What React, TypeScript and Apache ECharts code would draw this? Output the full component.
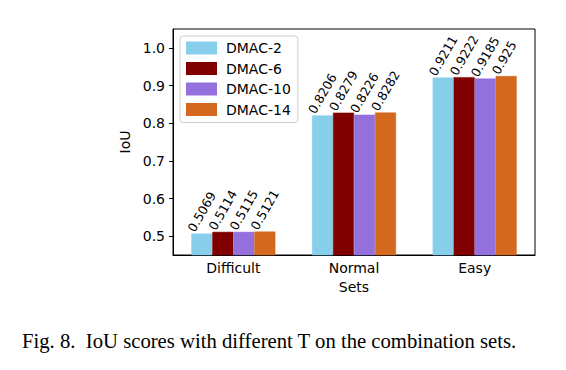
import React, { useEffect, useRef } from "react";
import * as echarts from "echarts";

const categories = ["Difficult", "Normal", "Easy"];
const seriesNames = ["DMAC-2", "DMAC-6", "DMAC-10", "DMAC-14"];
const dmac2 = [0.5069, 0.8206, 0.9211];
const dmac6 = [0.5114, 0.8279, 0.9222];
const dmac10 = [0.5115, 0.8226, 0.9185];
const dmac14 = [0.5121, 0.8282, 0.925];
const yTicks = [0.5, 0.6, 0.7, 0.8, 0.9, 1.0];
const colors = ["#87CEEB", "#800000", "#9370DB", "#D2691E"];
const caption = "Fig. 8.  IoU scores with different T on the combination sets.";

export default function App() {
  const ref = useRef<HTMLDivElement>(null);
  useEffect(() => {
    if (!ref.current) return;
    const chart = echarts.init(ref.current, null, { renderer: "svg" });
    const font = "DejaVu Sans";
    const values = [dmac2, dmac6, dmac10, dmac14];
    chart.setOption({
      animation: false,
      textStyle: { fontFamily: font },
      grid: {
        left: 173,
        top: 29,
        right: 31,
        bottom: 115,
        show: true,
        borderColor: "#000",
        borderWidth: 1,
        backgroundColor: "transparent",
      },
      legend: {
        orient: "vertical",
        left: 180,
        top: 36,
        data: seriesNames,
        icon: "rect",
        itemWidth: 29,
        itemHeight: 11,
        itemGap: 6.5,
        padding: [5, 7, 6, 6],
        borderColor: "#cccccc",
        borderWidth: 1,
        borderRadius: 3,
        backgroundColor: "#fff",
        textStyle: { fontFamily: font, fontSize: 14, color: "#000", padding: [0, 0, 0, 5], lineHeight: 14 },
      },
      xAxis: {
        type: "category",
        data: categories,
        name: "Sets",
        nameLocation: "middle",
        nameGap: 25,
        nameTextStyle: { fontFamily: font, fontSize: 14, color: "#000" },
        axisLine: { lineStyle: { color: "#000", width: 1 } },
        axisTick: { alignWithLabel: true, length: 4, lineStyle: { color: "#000" } },
        axisLabel: { fontFamily: font, fontSize: 14, color: "#000", margin: 6 },
      },
      yAxis: {
        type: "value",
        min: 0.45,
        max: 1.05,
        name: "IoU",
        nameLocation: "middle",
        nameGap: 29,
        nameTextStyle: { fontFamily: font, fontSize: 14, color: "#000" },
        splitLine: { show: false },
        axisLine: { show: true, lineStyle: { color: "#000", width: 1 } },
        axisTick: { show: true, length: 4, lineStyle: { color: "#000" }, customValues: yTicks },
        axisLabel: {
          fontFamily: font,
          fontSize: 14,
          color: "#000",
          margin: 8,
          customValues: yTicks,
          formatter: (v: number) => v.toFixed(1),
        },
      },
      series: seriesNames.map((name, i) => ({
        name,
        type: "bar",
        data: values[i],
        barWidth: 21,
        barGap: "0%",
        itemStyle: { color: colors[i], borderColor: colors[i], borderWidth: 0.5 },
        label: {
          show: true,
          position: "top",
          distance: 0,
          rotate: 60,
          align: "left",
          verticalAlign: "middle",
          offset: [-3, -11],
          fontFamily: font,
          fontSize: 12.5,
          color: "#000",
          formatter: (p: any) => String(p.value),
        },
      })),
      graphic: [
        {
          type: "text",
          left: 22,
          top: 330,
          style: {
            text: caption,
            font: '20.7px "Liberation Serif"',
            fill: "#000",
          },
        },
      ],
    });
    return () => chart.dispose();
  }, []);
  return (
    <div
      ref={ref}
      style={{ position: "fixed", left: 0, top: 0, width: 566, height: 370, background: "#fff" }}
    />
  );
}
